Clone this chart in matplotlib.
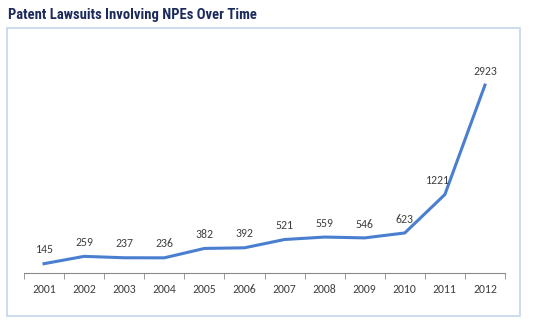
import matplotlib
matplotlib.use("Agg")
import matplotlib.pyplot as plt
from matplotlib.patches import Rectangle
import numpy as np

years = ["2001", "2002", "2003", "2004", "2005", "2006", "2007", "2008", "2009", "2010", "2011", "2012"]
lawsuits = [145, 259, 237, 236, 382, 392, 521, 559, 546, 623, 1221, 2923]
title = "Patent Lawsuits Involving NPEs Over Time"

W, H = 536, 324
fig = plt.figure(figsize=(W / 100, H / 100), dpi=100)
fig.patch.set_facecolor("white")

# chart border
fig.patches.append(Rectangle((7 / W, 1 - 316 / H), (520 - 7) / W, (316 - 28) / H,
                             transform=fig.transFigure, fill=False,
                             edgecolor="#c6d6ee", linewidth=1.2))

fig.text(8 / W, 1 - 15 / H, title, fontsize=10.5, fontweight="bold",
         color="#1c2a5c",
         family=["Roboto Condensed", "PT Sans Narrow", "Archivo Narrow", "DejaVu Sans"],
         va="center", ha="left")

lab_font = ["Carlito", "Lato", "DejaVu Sans"]

ax = fig.add_axes([24 / W, 1 - 273 / H, (505 - 24) / W, (273 - 48) / H])
x = np.arange(len(years))
ax.plot(x, lawsuits, color="#4a7fd0", linewidth=2.2, solid_joinstyle="round")
ax.set_xlim(-0.5, len(years) - 0.5)
ax.set_ylim(0, 3500)

for i, v in enumerate(lawsuits):
    dx = -6 if i == len(years) - 2 else 0
    ax.annotate(str(v), (i, v), xytext=(dx, 6), textcoords="offset points",
                ha="center", va="bottom", fontsize=8.5, color="#404040",
                family=lab_font)

for s in ["top", "right", "left"]:
    ax.spines[s].set_visible(False)
ax.spines["bottom"].set_color("#8a8a8a")
ax.set_yticks([])
ax.set_xticks(x)
ax.set_xticklabels(years, fontsize=8.5, color="#404040", family=lab_font)
ax.tick_params(axis="x", which="major", length=0, pad=8)
ax.set_xticks(np.arange(-0.5, len(years), 1), minor=True)
ax.tick_params(axis="x", which="minor", length=4, color="#8a8a8a", direction="out")

fig.savefig("out.png", dpi=100)
